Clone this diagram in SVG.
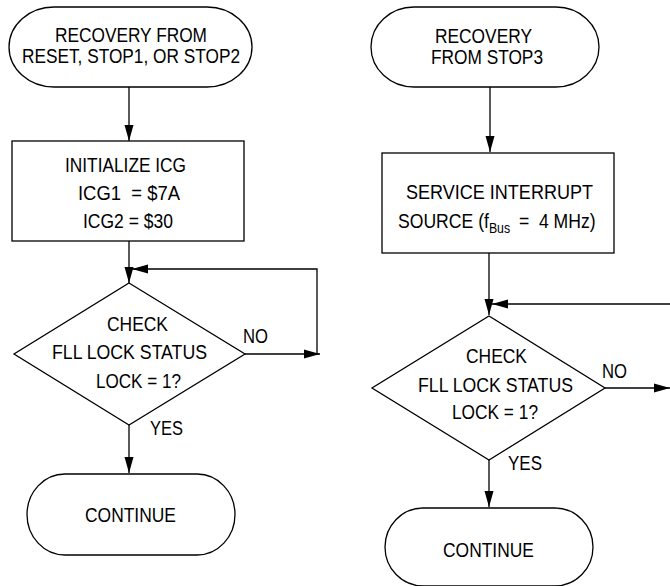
<svg xmlns="http://www.w3.org/2000/svg" width="670" height="586" viewBox="0 0 670 586">
<defs>
<marker id="ah" markerWidth="16" markerHeight="10" refX="16" refY="5" orient="auto" markerUnits="userSpaceOnUse">
<path d="M0,0.5 L16,5 L0,9.5 Z" fill="#000"/>
</marker>
<style>
.s{fill:none;stroke:#000;stroke-width:1.3}
.t{font-family:"Liberation Sans",Arial,sans-serif;font-size:20px;fill:#000}
.c{fill:none;stroke:#000;stroke-width:1.3;marker-end:url(#ah)}
</style>
</defs>
<rect width="670" height="586" fill="#fff"/>
<g id="start1">
<path class="s" d="M54,7 H207 A45,40 0 0 1 207,87 H54 A45,40 0 0 1 54,7 Z"/>
<text class="t" x="55" y="42" textLength="152" lengthAdjust="spacingAndGlyphs">RECOVERY FROM</text>
<text class="t" x="22" y="63" textLength="218" lengthAdjust="spacingAndGlyphs">RESET, STOP1, OR STOP2</text>
</g>
<g id="init">
<rect class="s" x="12" y="141" width="232" height="100"/>
<text class="t" x="65" y="172" textLength="121" lengthAdjust="spacingAndGlyphs">INITIALIZE ICG</text>
<text class="t" x="78" y="200" textLength="102" lengthAdjust="spacingAndGlyphs" xml:space="preserve">ICG1  = $7A</text>
<text class="t" x="83" y="228" textLength="90" lengthAdjust="spacingAndGlyphs">ICG2 = $30</text>
</g>
<g id="check1">
<path class="s" d="M129,283 L245,354 L129,425 L14,354 Z"/>
<text class="t" x="107" y="331" textLength="61" lengthAdjust="spacingAndGlyphs">CHECK</text>
<text class="t" x="52" y="359" textLength="155" lengthAdjust="spacingAndGlyphs">FLL LOCK STATUS</text>
<text class="t" x="96" y="388" textLength="85" lengthAdjust="spacingAndGlyphs">LOCK = 1?</text>
</g>
<g id="cont1">
<path class="s" d="M65,474 H197 A38,40.5 0 0 1 197,555 H65 A38,40.5 0 0 1 65,474 Z"/>
<text class="t" x="85" y="522" textLength="91" lengthAdjust="spacingAndGlyphs">CONTINUE</text>
</g>
<g id="start2">
<path class="s" d="M414,7 H556 A43,40 0 0 1 556,87 H414 A43,40 0 0 1 414,7 Z"/>
<text class="t" x="435" y="43" textLength="97" lengthAdjust="spacingAndGlyphs">RECOVERY</text>
<text class="t" x="431" y="64" textLength="112" lengthAdjust="spacingAndGlyphs">FROM STOP3</text>
</g>
<g id="service">
<rect class="s" x="382" y="153" width="232" height="100"/>
<text class="t" x="406" y="199" textLength="187" lengthAdjust="spacingAndGlyphs">SERVICE INTERRUPT</text>
<text class="t" transform="translate(398,228) scale(0.88,1)" x="0" y="0" xml:space="preserve">SOURCE (f<tspan font-size="14" dy="5">Bus</tspan><tspan dy="-5" dx="10">=  4 MHz)</tspan></text>
</g>
<g id="check2">
<path class="s" d="M489,316 L605,388 L489,460 L372,388 Z"/>
<text class="t" x="466" y="363" textLength="61" lengthAdjust="spacingAndGlyphs">CHECK</text>
<text class="t" x="418" y="392" textLength="155" lengthAdjust="spacingAndGlyphs">FLL LOCK STATUS</text>
<text class="t" x="452" y="419" textLength="86" lengthAdjust="spacingAndGlyphs">LOCK = 1?</text>
</g>
<g id="cont2">
<path class="s" d="M423,508 H555 A38,39 0 0 1 555,586 H423 A38,39 0 0 1 423,508 Z"/>
<text class="t" x="443" y="557" textLength="91" lengthAdjust="spacingAndGlyphs">CONTINUE</text>
</g>
<g id="connectors">
<line class="c" x1="129" y1="87" x2="129" y2="141"/>
<line class="c" x1="129" y1="241" x2="129" y2="283"/>
<line class="c" x1="245" y1="354" x2="320" y2="354"/>
<polyline class="c" points="317,354 317,269 132,269"/>
<line class="c" x1="129" y1="425" x2="129" y2="473"/>
<text class="t" x="243" y="343" textLength="25" lengthAdjust="spacingAndGlyphs">NO</text>
<text class="t" x="150" y="435" textLength="33" lengthAdjust="spacingAndGlyphs">YES</text>
<line class="c" x1="490" y1="87" x2="490" y2="152"/>
<line class="c" x1="489" y1="253" x2="489" y2="315"/>
<line class="c" x1="670" y1="304" x2="492" y2="304"/>
<line class="c" x1="605" y1="388" x2="670" y2="388"/>
<line class="c" x1="489" y1="460" x2="489" y2="507"/>
<text class="t" x="602" y="378" textLength="25" lengthAdjust="spacingAndGlyphs">NO</text>
<text class="t" x="508" y="470" textLength="34" lengthAdjust="spacingAndGlyphs">YES</text>
</g>
</svg>
